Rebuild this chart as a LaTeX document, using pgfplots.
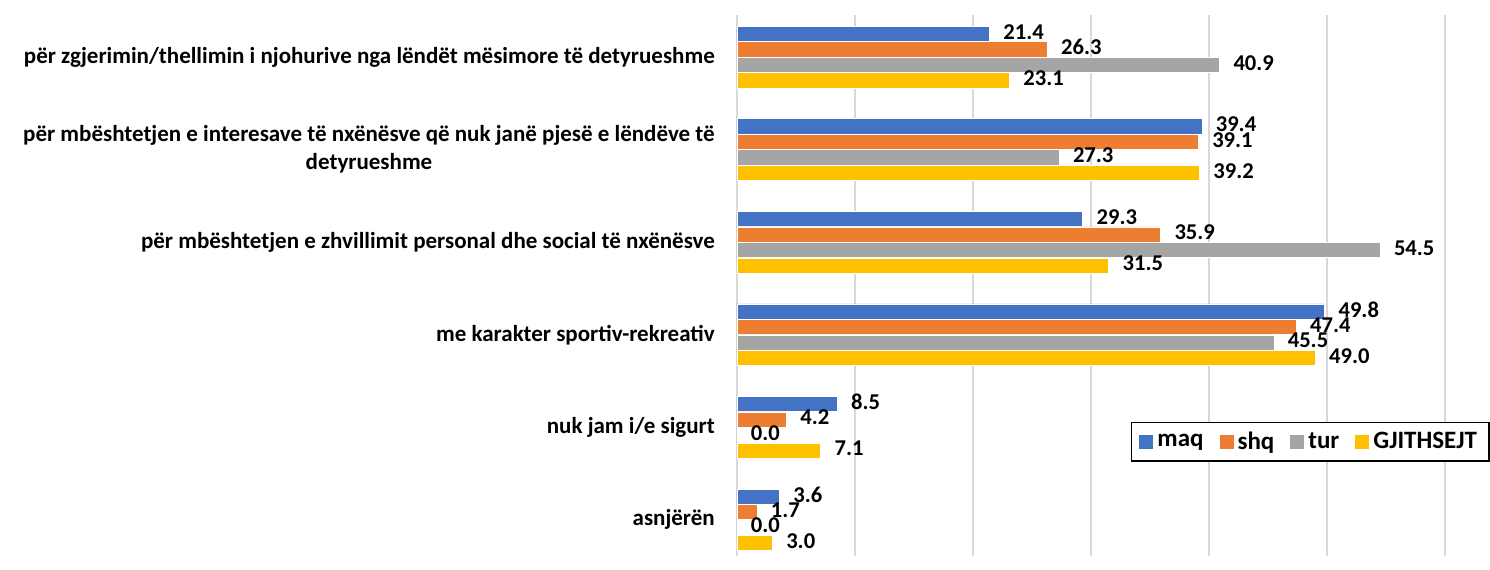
\documentclass[border=0pt]{standalone}
\usepackage{fontspec}
\setmainfont{Carlito}
\usepackage{pgfplots}
\pgfplotsset{compat=1.18}
\definecolor{cmaq}{HTML}{4472C4}
\definecolor{cshq}{HTML}{ED7D31}
\definecolor{ctur}{HTML}{A5A5A5}
\definecolor{call}{HTML}{FFC000}
\definecolor{gridc}{HTML}{D9D9D9}
\begin{document}
\begin{tikzpicture}
\begin{axis}[
    scale only axis,
    width=376.5pt, height=270.5pt,
    xmin=0, xmax=63.8,
    ymin=-0.454, ymax=5.39,
    y dir=reverse,
    xbar, bar width=7.6pt,
    xtick={0,10,...,60}, xticklabels={},
    xmajorgrids, grid style={gridc, line width=0.8pt},
    major tick length=0pt,
    axis line style={draw=none},
    ytick={0,...,5},
    yticklabels={
        për zgjerimin/thellimin i njohurive nga lëndët mësimore të detyrueshme,
        {për mbështetjen e interesave të nxënësve që nuk janë pjesë e lëndëve të\\detyrueshme},
        për mbështetjen e zhvillimit personal dhe social të nxënësve,
        me karakter sportiv-rekreativ,
        nuk jam i/e sigurt,
        asnjërën},
    yticklabel style={font=\bfseries\fontsize{11.5}{14}\selectfont, align=center, xshift=-7.5pt},
    nodes near coords,
    nodes near coords style={font=\bfseries\fontsize{11.3}{13}\selectfont, anchor=west, xshift=3.5pt, yshift=1pt,
        /pgf/number format/.cd, fixed, fixed zerofill, precision=1, assume math mode=true},
    every axis plot/.append style={draw=white, line width=0.3pt},
    legend style={at={(1,0.248)}, anchor=north east, legend columns=-1, draw=black, line width=0.8pt,
        font=\bfseries\fontsize{12.5}{14}\selectfont, inner ysep=2.5pt, inner xsep=4pt,
        /tikz/every even column/.append style={column sep=6pt}},
    legend image code/.code={\fill[#1, draw=none] (0pt,-3.5pt) rectangle (7pt,3.5pt);},
    clip=false,
]
\addplot[fill=cmaq, bar shift=11.625pt] coordinates {(21.4,0) (39.4,1) (29.3,2) (49.8,3) (8.5,4) (3.6,5)};
\addplot[fill=cshq, bar shift=3.875pt] coordinates {(26.3,0) (39.1,1) (35.9,2) (47.4,3) (4.2,4) (1.7,5)};
\addplot[fill=ctur, bar shift=-3.875pt] coordinates {(40.9,0) (27.3,1) (54.5,2) (45.5,3) (0.0,4) (0.0,5)};
\addplot[fill=call, bar shift=-11.625pt] coordinates {(23.1,0) (39.2,1) (31.5,2) (49.0,3) (7.1,4) (3.0,5)};
\legend{maq, shq, tur, GJITHSEJT}
\end{axis}
\path ([yshift=7.5pt]current axis.north);
\path (current axis.west) ++(-368.5pt,0);
\end{tikzpicture}
\end{document}
